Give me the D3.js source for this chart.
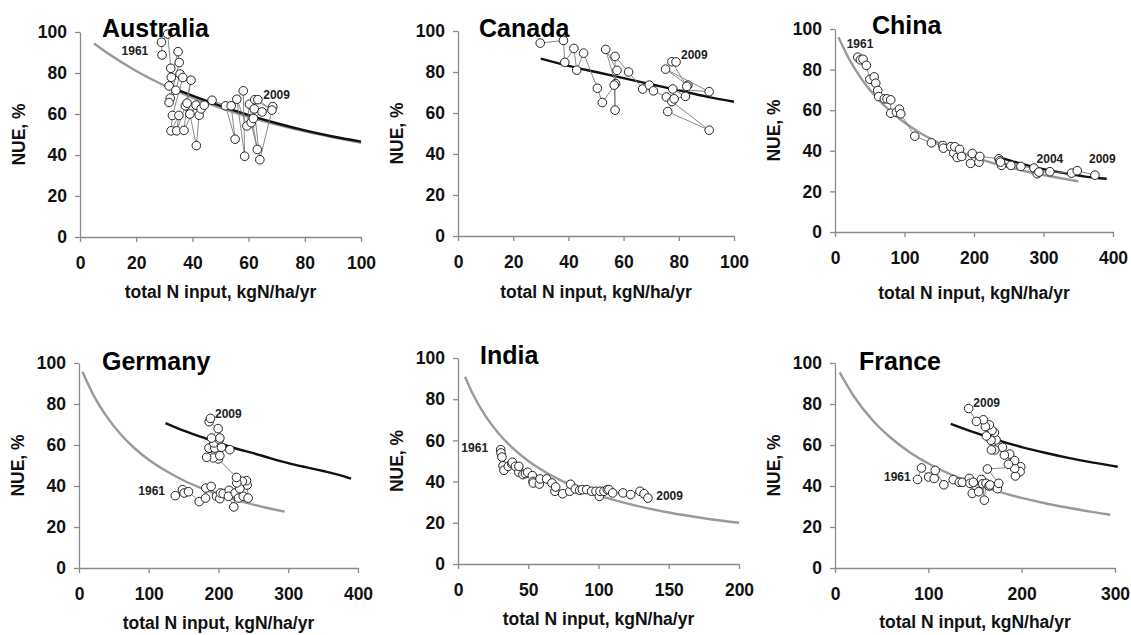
<!DOCTYPE html>
<html lang="en">

<head>
    <meta charset="utf-8">
    <title>NUE vs total N input</title>
    <script src="https://d3js.org/d3.v7.min.js"></script>
    <style>
        body, html {
            margin: 0;
            padding: 0;
            width: 100%;
            height: 100%;
            overflow: hidden;
            background: #fff;
        }

        text {
            font-family: "Liberation Sans", Arial, Helvetica, sans-serif;
            font-weight: bold;
        }

        .axis path,
        .axis line {
            stroke: #8a8a8a;
            stroke-width: 1.3px;
        }

        .axis text {
            font-size: 17.5px;
            fill: #111;
        }

        .axis-title {
            font-size: 17.5px;
            fill: #111;
        }

        .panel-title {
            font-size: 25px;
            fill: #000;
        }

        .year {
            font-size: 12px;
            fill: #222;
        }

        .track {
            fill: none;
            stroke: #7a7a7a;
            stroke-width: 0.9px;
        }

        .dot {
            fill: #fff;
            stroke: #222;
            stroke-width: 1px;
        }
    </style>
</head>

<body>
    <svg width="1131" height="635"></svg>

    <script>
        // ---- data: [total N input, NUE %], year order 1961 -> 2009 ----
        var australiaPts = [[29.2,88.8],[29,95],[31.2,99],[32.3,82.3],[31.7,73.7],[32.5,77.9],[34.9,90.4],[35.3,85.1],
            [32.1,67.7],[31.7,65.6],[34.1,71.6],[35.6,79.5],[36.6,77.8],[32.9,59.3],[32.4,51.8],[35.2,59.3],[34.4,51.8],
            [37.5,64],[39.5,76.5],[38.1,65.3],[37,52],[41.3,64.3],[39.1,60],[41.4,44.6],[42.4,59.4],[43.1,62.5],[44.2,64.3],
            [47,66.7],[51.8,64],[55.2,47.7],[53.8,64],[58.1,71.3],[58.6,39.4],[55.8,67.2],[59.4,54.2],[60.3,64.8],[63.1,42.7],
            [60.9,55.8],[62,62.5],[64,37.7],[68.6,63.6],[64.8,61],[61.7,57.8],[62.2,67],[68.3,61.9],[63.3,67]];
        var canadaPts = [[29.8,94.1],[38.2,95.4],[38.7,84.7],[42,91.5],[43,80.9],[45.5,89.2],[50.5,72.1],[52.3,65.1],
            [57.1,74.3],[53.5,91],[57.6,80.8],[56.6,73.6],[56.9,61.4],[56.9,87.6],[61.8,80],[66.9,71.7],[69.3,73.6],
            [70.8,70.8],[75.5,67.8],[77.5,65.6],[91,51.6],[76,60.7],[78.3,66.9],[82.4,68.1],[77.8,71.7],[91,70.4],
            [75.2,81.4],[83.3,73.6],[82.9,73],[77.5,85],[79,84.9]];
        var chinaPts = [[32.7,86.1],[36.5,84.8],[40.3,85.1],[45.1,82.1],[50.2,75.2],[56.4,76.4],[58.6,73.3],[61.5,69.7],
            [62.9,66.7],[71,65.6],[74.9,65.6],[80.2,65.1],[80.2,58.5],[88.4,59],[92.7,60.5],[94.6,58.2],[114.8,47.2],
            [138.8,43.9],[155.1,42.6],[156,41.3],[166.6,42],[170.9,38.9],[172.4,42],[175.8,36.7],[179.2,40.7],[182.1,37.2],
            [195.1,33.8],[197.5,38.7],[207.1,34.4],[208.4,37.2],[235.8,36.1],[237.2,35.1],[239.6,32.8],[238.2,34.4],
            [253.1,32.8],[267.5,32.3],[286.3,31.5],[291,28.7],[293.4,29.5],[309.2,29.7],[340.4,29],[348.6,30.2],[374,28]];
        var germanyPts = [[138,35.3],[148.4,38.2],[150.8,36.6],[157,37.2],[172.3,32.4],[181.4,34.1],[181.9,39],[189.5,39.8],
            [197.1,35],[201.9,33.8],[202.9,36.6],[206.7,36.3],[215.3,37.9],[214.3,35],[221.9,29.8],[223.9,36.6],[228.7,34.1],
            [235.4,35],[242.5,34.1],[241.1,40.5],[240.1,42.6],[234.3,42.3],[230.6,38.7],[226.3,41.5],[225.8,44.2],
            [199.9,53.2],[192.4,53.7],[183,54],[201.9,54.8],[187.8,58.4],[186.3,58.5],[194.7,58.5],[204.3,58.9],[216.2,57.7],
            [193.3,61],[201,62.6],[201.9,63.4],[190,63.4],[199.5,68],[186.6,71.4],[188.5,73]];
        var indiaPts = [[30.4,55.5],[30.6,53.9],[31.3,51.9],[32,47.7],[32.7,45.5],[35.8,47.4],[38.3,48.7],[38.7,49.4],
            [40.9,47.4],[43.3,44.5],[43.3,47.4],[46.2,43.4],[48,43.9],[49.6,44.5],[52.9,42.9],[53.4,40.1],[53.6,39.3],
            [57.9,38.8],[58.4,41.3],[63.1,41.3],[66.9,39.3],[69,35.3],[69.5,37.4],[74.5,34.1],[79.5,35.3],[80.2,38.7],
            [83.5,36.4],[86.6,35.8],[88.5,36.1],[91.6,36.1],[95.1,35.3],[98.2,35.3],[100.6,32.8],[101.1,35.3],[103.9,35.3],
            [106.3,36.1],[107.5,36.1],[110.1,34.5],[117.4,34.5],[122.9,33.7],[129.5,35.3],[132.4,34.1],[135.2,32]];
        var francePts = [[88.4,43.2],[92.7,48.8],[100.3,44.4],[106.3,43.7],[107.4,47.6],[116.7,40.6],[126.7,43.1],[133.2,41.8],
            [136.4,41.8],[143.9,43.7],[144.6,41.3],[147.1,36.4],[148.2,41.8],[153.9,37.2],[156.8,43.2],[158.2,41.1],[160,33.1],
            [161.8,41.3],[165,40],[166.1,40.5],[174,38.7],[175.4,41.3],[163.3,48.3],[199,49.4],[198.3,47],[193.3,44.9],
            [192.5,48.6],[192.5,52.4],[185.8,50.6],[187.2,55.6],[181.5,55.1],[179.4,58.9],[172.6,62.5],[171.2,57.6],
            [167.6,57.6],[170.8,66.1],[168.3,67.1],[167.2,62.3],[165.4,69.8],[162.2,64.4],[161.1,69],[159,72.3],[151.5,71.5],[143.2,77.8]];

        // ---- fitted curves, sampled off the figure ----
        var australiaGray = [[5,94.4],[10,89.5],[20,81],[30,73.9],[40,68],[50,63],[60,58.6],[70,54.8],[80,51.5],[90,48.6],[100,46]];
        var australiaBlack = [[33,72.5],[40,69],[50,64],[60,59.5],[70,55.5],[80,52],[90,49],[100,46.5]];
        var canadaBlack = [[30,86.5],[40,83],[50,80],[60,77],[70,74],[80,71],[90,68],[100,65.5]];
        var chinaGray = [[5,95.9],[20,85.4],[40,74.5],[60,66.1],[80,59.4],[100,53.9],[125,48.3],[150,43.8],[175,40.1],
            [200,36.9],[225,34.2],[250,31.9],[275,29.8],[300,28.1],[325,26.5],[350,25]];
        var chinaBlack = [[242,36.3],[260,34.4],[280,32.6],[300,31],[320,29.6],[340,28.4],[360,27.3],[391,26.2]];
        var germanyGray = [[5,95.7],[20,84.8],[40,73.7],[60,65.1],[80,58.3],[100,52.8],[125,47.3],[150,42.7],[175,39],
            [200,35.9],[225,33.2],[250,30.9],[275,28.9],[295,27.5]];
        var germanyBlack = [[124,70.7],[150,67],[175,64],[200,61],[225,58.3],[250,56],[275,53.5],[300,51.2],[325,49.2],
            [350,47.3],[375,45.2],[390,43.6]];
        var indiaGray = [[5,90.9],[10,83.3],[20,71.4],[30,62.5],[40,55.6],[50,50],[60,45.5],[75,40],[100,33.3],[125,28.6],
            [150,25],[175,22.2],[200,20]];
        var franceGray = [[5,95.4],[20,83.9],[40,72.2],[60,63.4],[80,56.5],[100,51],[125,45.4],[150,40.9],[175,37.3],
            [200,34.2],[225,31.6],[250,29.4],[275,27.4],[295,26]];
        var franceBlack = [[124,70.3],[150,66],[175,62.3],[200,59],[225,56.2],[250,53.7],[275,51.5],[303,49.4]];

        // ---- year annotations: [x, y, text] in data units ----
        var australiaYears = [[14.8,88.8,"1961"],[65.2,67.3,"2009"]];
        var canadaYears = [[80.8,86.3,"2009"]];
        var chinaYears = [[16.8,90.8,"1961"],[290,33.8,"2004"],[365.5,33.8,"2009"]];
        var germanyYears = [[85,35.6,"1961"],[195,73.3,"2009"]];
        var indiaYears = [[2.4,54.2,"1961"],[141.1,31.1,"2009"]];
        var franceYears = [[52.5,42.6,"1961"],[148.2,78.4,"2009"]];

        var yTicks = [0, 20, 40, 60, 80, 100];

        // ---- panel layout (pixels) ----
        var panels = [
            { name: "Australia", pts: australiaPts, gray: australiaGray, black: australiaBlack, years: australiaYears,
              left: 80, right: 361, top: 32, bottom: 237, xmax: 100, xticks: [0, 20, 40, 60, 80, 100], tx: 102, ty: 37, xty: 298 },
            { name: "Canada", pts: canadaPts, gray: null, black: canadaBlack, years: canadaYears,
              left: 458, right: 734, top: 31, bottom: 236, xmax: 100, xticks: [0, 20, 40, 60, 80, 100], tx: 479, ty: 37, xty: 298 },
            { name: "China", pts: chinaPts, gray: chinaGray, black: chinaBlack, years: chinaYears,
              left: 835, right: 1113, top: 29, bottom: 232, xmax: 400, xticks: [0, 100, 200, 300, 400], tx: 872, ty: 34, xty: 299 },
            { name: "Germany", pts: germanyPts, gray: germanyGray, black: germanyBlack, years: germanyYears,
              left: 79, right: 358, top: 363, bottom: 568, xmax: 400, xticks: [0, 100, 200, 300, 400], tx: 102, ty: 370, xty: 629 },
            { name: "India", pts: indiaPts, gray: indiaGray, black: null, years: indiaYears,
              left: 458, right: 739, top: 358, bottom: 564, xmax: 200, xticks: [0, 50, 100, 150, 200], tx: 480, ty: 364, xty: 625 },
            { name: "France", pts: francePts, gray: franceGray, black: franceBlack, years: franceYears,
              left: 835, right: 1115, top: 363, bottom: 568, xmax: 300, xticks: [0, 100, 200, 300], tx: 859, ty: 370, xty: 628 }
        ];

        var svg = d3.select("svg");

        panels.forEach(function (p) {
            var g = svg.append("g").attr("class", "panel");
            var x = d3.scaleLinear().domain([0, p.xmax]).range([p.left, p.right]);
            var y = d3.scaleLinear().domain([0, 100]).range([p.bottom, p.top]);

            g.append("g")
                .attr("class", "axis")
                .attr("transform", "translate(0," + p.bottom + ")")
                .call(d3.axisBottom(x).tickValues(p.xticks).tickSize(5).tickSizeOuter(0).tickPadding(14.5));

            g.append("g")
                .attr("class", "axis")
                .attr("transform", "translate(" + p.left + ",0)")
                .call(d3.axisLeft(y).tickValues(yTicks).tickSize(5).tickSizeOuter(0).tickPadding(8));

            g.append("text")
                .attr("class", "axis-title")
                .attr("text-anchor", "middle")
                .attr("x", (p.left + p.right) / 2)
                .attr("y", p.xty)
                .text("total N input, kgN/ha/yr");

            g.append("text")
                .attr("class", "axis-title")
                .attr("text-anchor", "middle")
                .attr("dy", "0.35em")
                .attr("transform", "translate(" + (p.left - 61) + "," + ((p.top + p.bottom) / 2) + ") rotate(-90)")
                .text("NUE, %");

            var line = d3.line()
                .x(function (d) { return x(d[0]); })
                .y(function (d) { return y(d[1]); });

            var smooth = d3.line()
                .curve(d3.curveMonotoneX)
                .x(function (d) { return x(d[0]); })
                .y(function (d) { return y(d[1]); });

            if (p.gray) {
                g.append("path").datum(p.gray)
                    .attr("d", smooth)
                    .attr("fill", "none")
                    .attr("stroke", "#9a9a9a")
                    .attr("stroke-width", 2.4);
            }
            if (p.black) {
                g.append("path").datum(p.black)
                    .attr("d", smooth)
                    .attr("fill", "none")
                    .attr("stroke", "#111")
                    .attr("stroke-width", 2.4);
            }

            g.append("path").datum(p.pts)
                .attr("class", "track")
                .attr("d", line);

            g.selectAll("circle")
                .data(p.pts)
                .enter().append("circle")
                .attr("class", "dot")
                .attr("cx", function (d) { return x(d[0]); })
                .attr("cy", function (d) { return y(d[1]); })
                .attr("r", 4.3);

            g.selectAll(".year")
                .data(p.years)
                .enter().append("text")
                .attr("class", "year")
                .attr("x", function (d) { return x(d[0]); })
                .attr("y", function (d) { return y(d[1]); })
                .text(function (d) { return d[2]; });

            g.append("text")
                .attr("class", "panel-title")
                .attr("x", p.tx)
                .attr("y", p.ty)
                .text(p.name);
        });
    </script>
</body>

</html>
